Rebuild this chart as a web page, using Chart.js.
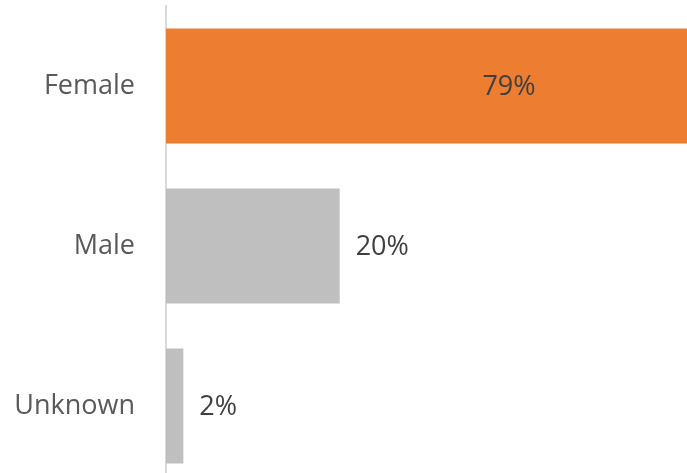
<!DOCTYPE html>
<html>
<head>
<meta charset="utf-8">
<script src="https://cdn.jsdelivr.net/npm/chart.js@4/dist/chart.umd.min.js"></script>
<style>
    html, body { margin: 0; padding: 0; background: #ffffff; overflow: hidden; }
    #wrap { width: 687px; height: 486px; }
</style>
</head>
<body>
<div id="wrap"><canvas id="genderChart"></canvas></div>
<script>
    // gender split, percent of respondents
    const categories = ['Female', 'Male', 'Unknown'];
    const shares = [79, 20, 2];
    const barColors = ['#ED7D31', '#BFBFBF', '#BFBFBF'];

    // value labels: inside the bar when it is long, otherwise just past its end
    const valueLabels = {
        id: 'valueLabels',
        afterDatasetsDraw: function (chart) {
            var ctx = chart.ctx;
            var xScale = chart.scales.x;
            var meta = chart.getDatasetMeta(0);
            ctx.save();
            ctx.font = '27px "Open Sans", sans-serif';
            ctx.fillStyle = '#404040';
            ctx.textBaseline = 'middle';
            meta.data.forEach(function (bar, i) {
                var v = shares[i];
                var text = v + '%';
                if (v > 50) {
                    ctx.textAlign = 'center';
                    ctx.fillText(text, xScale.getPixelForValue(v / 2), bar.y + 1);
                } else {
                    ctx.textAlign = 'left';
                    ctx.fillText(text, bar.x + 16, bar.y + 1);
                }
            });
            ctx.restore();
        }
    };

    new Chart(document.getElementById('genderChart'), {
        type: 'bar',
        data: {
            labels: categories,
            datasets: [{
                data: shares,
                backgroundColor: barColors,
                borderWidth: 0,
                categoryPercentage: 1,
                barPercentage: 0.72
            }]
        },
        options: {
            indexAxis: 'y',
            responsive: true,
            maintainAspectRatio: false,
            animation: false,
            layout: { padding: { top: 6, right: 0, bottom: 0, left: 0 } },
            plugins: {
                legend: { display: false },
                tooltip: { enabled: false }
            },
            scales: {
                x: {
                    display: false,
                    min: 0,
                    max: 60
                },
                y: {
                    grid: { display: false },
                    border: { display: true, color: '#D9D9D9', width: 2 },
                    ticks: {
                        color: '#595959',
                        padding: 23,
                        font: { family: '"Open Sans", sans-serif', size: 27 }
                    },
                    afterFit: function (scale) {
                        // fixed gutter for the category names, no extra vertical padding
                        scale.width = 166;
                        scale.paddingTop = 0;
                        scale.paddingBottom = 0;
                    }
                }
            }
        },
        plugins: [valueLabels]
    });
</script>
</body>
</html>
